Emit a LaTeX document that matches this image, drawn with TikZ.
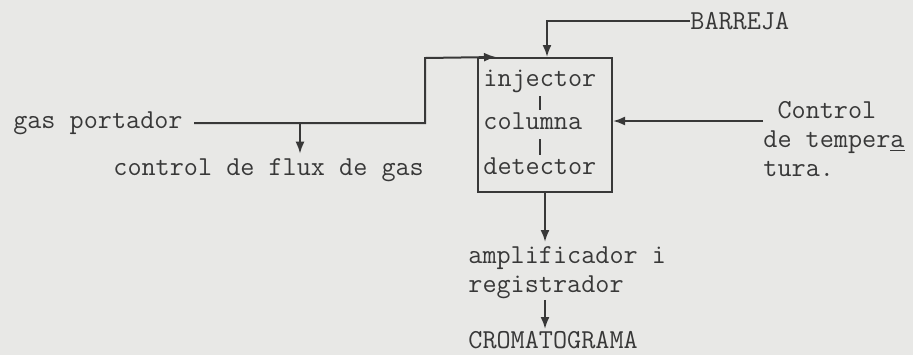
\documentclass[tikz,border=0pt]{standalone}
\usetikzlibrary{arrows.meta,positioning}
\definecolor{scanpaper}{HTML}{E8E8E6}
\definecolor{ink}{HTML}{383838}
\tikzset{
  lbl/.style={font=\ttfamily\fontsize{13.7}{14.5}\selectfont, text=ink, inner sep=0pt},
  cell/.style={lbl, text depth=0pt},
  stage/.style={draw=ink, line width=1pt, minimum width=67pt, minimum height=67pt, inner sep=0pt},
  wire/.style={line width=1pt, draw=ink},
  flow/.style={wire, -{Latex[length=6pt,width=4.5pt]}},
  tick/.style={wire, shorten <=5pt, shorten >=1pt},
}

\begin{document}
\begin{tikzpicture}[x=0.5pt,y=-0.5pt]
  \fill[scanpaper] (0,0) rectangle (913,355);
  \useasboundingbox (0,0) rectangle (913,355);
  % column block
  \node[stage] (box) at (545,125) {};
  \node[cell, anchor=base west] (inj) at (483,86) {injector};
  \node[cell, anchor=base west] (col) at (483,129) {columna};
  \node[cell, anchor=base west] (det) at (483,174) {detector};
  \draw[tick] (inj.south) -- (inj.south |- col.north);
  \draw[tick] (inj.south |- col.south) -- (inj.south |- det.north);
  % inputs
  \node[lbl, anchor=base east] (gas) at (183,128) {gas portador};
  \node[lbl, anchor=base west] (flux) at (113,175) {control de flux de gas};
  \node[lbl, anchor=west] (barreja) at (690,21) {BARREJA};
  \node[lbl, anchor=north west, align=left] (temp) at (763,101)
    {\hphantom{d}Control\\de temper\underline{a}\\tura.};
  \coordinate (tap) at (300,123);
  \coordinate (elbow) at (425,58);
  \coordinate (tin) at ([yshift=2pt]box.east);
  \draw[flow] ([xshift=5.5pt,yshift=2.5pt]gas.base east) -| (elbow) -- ([xshift=9.5pt]box.north west);
  \draw[flow, shorten >=2pt] (tap) -- (tap |- flux.north);
  \draw[flow] (barreja.west) -| ([xshift=1pt]box.north);
  \draw[flow] (tin -| temp.west) -- (tin);
  % outputs
  \node[lbl, anchor=north west, align=left] (amp) at (468,246) {amplificador i\\registrador};
  \node[lbl, anchor=north west] (croma) at (468,331) {CROMATOGRAMA};
  \draw[flow, shorten >=2pt] (box.south) -- (box.south |- amp.north);
  \draw[flow, shorten <=0.5pt, shorten >=1pt] (box.south |- amp.south) -- (box.south |- croma.north);
\end{tikzpicture}
\end{document}
